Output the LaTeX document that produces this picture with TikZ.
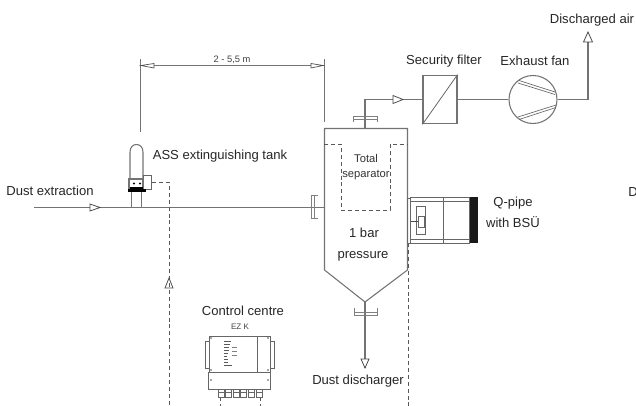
\documentclass[tikz,border=0pt]{standalone}
\usepackage{fontspec}
\setmainfont{Liberation Sans}
\begin{document}
\begin{tikzpicture}[x=0.75pt,y=-0.75pt,
  pipe/.style={draw=black!55,line width=0.8pt},
  thin part/.style={draw=black!60,line width=0.5pt},
  dash line/.style={draw=black!65,line width=0.7pt,dash pattern=on 3pt off 2.2pt},
  lbl/.style={inner sep=0pt,text=black!85,font=\fontsize{9.8}{11}\selectfont,align=center},
  sep lbl/.style={inner sep=0pt,text=black!80,font=\fontsize{8.4}{10}\selectfont},
  small lbl/.style={inner sep=0pt,text=black!75,font=\fontsize{6}{7}\selectfont},
  dim lbl/.style={inner sep=0pt,text=black!75,font=\fontsize{7}{8}\selectfont},
  flange/.style={draw=black!50,line width=0.7pt},
  tip/.style={draw=black!70,fill=white,line width=0.6pt}]
\useasboundingbox (0,0) rectangle (636,406);
% coordinates
\coordinate (inlet) at (34,207.5);
\coordinate (flangeL) at (313,207.5);
\coordinate (vesselL) at (324,207.5);
\coordinate (topOut) at (365,128);
\coordinate (elbow) at (365,99.5);
\coordinate (apex) at (365,302);
\coordinate (dischargeTip) at (365,368);
\coordinate (exhaustElbow) at (588,99.5);
\coordinate (exhaustTip) at (588,42);
\coordinate (dimL) at (140.5,65.5);
\coordinate (dimR) at (324.5,65.5);
% vessel
\draw[pipe] (324.5,128.5) -- (407.5,128.5) -- (407.5,270) -- (365,302) -- (324.5,270) -- cycle;
% nodes
\node[pipe,inner sep=0pt,minimum width=25.5pt,minimum height=36.5pt] (filter) at (440,99.5) {};
\draw[thin part,line width=0.6pt] (filter.south west) -- (filter.north east);
\node[pipe,circle,inner sep=0pt,minimum size=36pt] (fan) at (533,99.5) {};
\draw[thin part] (519,80.5) -- (555,92) (518,83) -- (555,94.5);
\draw[thin part] (518,117) -- (556,105) (519,119.5) -- (556,107.5);
% pipes
\draw[pipe] (inlet) -- (flangeL);
\draw[pipe] (flangeL) -- (vesselL);
\draw[pipe] (topOut) -- (elbow) -- (filter.west);
\draw[pipe] (filter.east) -- (fan.west);
\draw[pipe] (fan.east) -- (exhaustElbow) -- (exhaustTip);
\draw[pipe] (apex) -- (dischargeTip);
% open arrowheads
\draw[tip] (90,204) -- (100,207.5) -- (90,211) -- cycle;
\draw[tip] (393,95.5) -- (403,99.5) -- (393,103.5) -- cycle;
\draw[tip] (588,32) -- (592.5,42) -- (583.5,42) -- cycle;
\draw[tip] (365,368) -- (361,359) -- (369,359) -- cycle;
\draw[tip] (169,278) -- (165,288) -- (173,288) -- cycle;
% flanges
\draw[flange] (318,195) -- (311,195) -- (311,218) -- (318,218);
\draw[flange] (314,195) -- (314,218);
\draw[flange] (353.5,122) -- (353.5,116) -- (377,116) -- (377,122);
\draw[flange] (353.5,119) -- (377,119);
\draw[flange] (354,308) -- (354,315) -- (377,315) -- (377,308);
\draw[flange] (354,312) -- (377,312);
% separator
\draw[dash line] (324,144) -- (341,144) -- (341,210) -- (390,210) -- (390,144) -- (407,144);
% dimension
\draw[pipe] (dimL) ++(0,-6) -- (140.5,132);
\draw[pipe] (dimR) ++(0,-6) -- (324.5,122);
\draw[pipe] (dimL) -- (dimR);
\draw[tip,line width=0.5pt] (141,65.5) -- (154,63.5) -- (154,68) -- cycle;
\draw[tip,line width=0.5pt] (323,65.5) -- (311,63.5) -- (311,68) -- cycle;
% tank
\draw[pipe] (130,179) -- (130,152) .. controls (130,142) and (143,142) .. (143,152) -- (143,179);
\draw[thin part,fill=white] (143,175) rectangle (151,189);
\draw[pipe,fill=white] (129,179) rectangle (143,189);
\fill[black] (128,189) rectangle (146,192.5);
\fill[black] (130,187) rectangle (143,190);
\fill[black] (134,183.5) circle (1.2) (140,183.5) circle (1.2);
\draw[pipe] (131.5,192) -- (131.5,207) (141.5,192) -- (141.5,207);
% extinguisher signal
\coordinate (sigTop) at (169,182);
\coordinate (sigBottom) at (169,406);
\draw[dash line] (152,182) -- (sigTop) -- (sigBottom);
\draw[dash line] (408,243) -- (408,406);
% Q-pipe
\fill[black!90] (469,197) rectangle (478,243);
\draw[thin part] (407,198) rectangle (410.5,243);
\draw[thin part] (410.5,197) rectangle (469,243);
\draw[thin part] (410.5,201) -- (469,201) (410.5,239) -- (469,239);
\draw[thin part] (443,197) -- (443,243);
\draw[thin part] (416,206) rectangle (425,234);
\draw[thin part] (418,216) rectangle (424,227);
\draw[black!70,line width=0.7pt] (410.5,221) -- (418,221);
% control centre
\draw[thin part] (209,336) rectangle (270,372);
\draw[thin part] (208,372) rectangle (270,389);
\draw[thin part] (257,336) -- (257,372);
\draw[thin part] (209,341) -- (205,341) -- (205,368) -- (209,368);
\draw[thin part] (270,341) -- (274,341) -- (274,368) -- (270,368);
\foreach \p in {(211,338),(268,338),(211,370),(268,370),(211,380),(268,380)} \fill[black!70] \p circle (0.9);
\foreach \i in {0,1,2,3,4,5} {
  \draw[thin part] ({218+7.6*\i},389) rectangle ({224+7.6*\i},397);
  \draw[thin part] ({218+7.6*\i},392.5) -- ({224+7.6*\i},392.5);
}
\foreach \x/\yy/\l in {224/341/7,224/344/6,224/347/5,224/350/5,224/353/4,224/356/3,224/359/4,224/362/4,224/365/6}
  \draw[black!65,line width=0.6pt] (\x,\yy) -- ++(\l,0);
\foreach \yy in {347,351,355} \draw[black!50,line width=0.5pt] (232,\yy) -- ++(5,0);
\draw[black!65,line width=0.5pt] (226,365) -- (232,365);
\draw[black!65,line width=0.5pt,dash pattern=on 2.5pt off 2pt] (220,398) -- (220,406) (260.5,398) -- (260.5,406);
% labels
\node[lbl] (tDust) at (50,191) {Dust extraction};
\node[lbl] (tAss) at (220,156.5) {ASS extinguishing tank};
\node[lbl] (tSec) at (444,61) {Security filter};
\node[lbl] (tFan) at (535,61) {Exhaust fan};
\node[lbl] (tAir) at (592,20) {Discharged air};
\node[sep lbl] (tSep) at (366,158) {Total};
\node[sep lbl] (tSep2) at (366,175) {separator};
\node[lbl] (t1bar) at (364,233) {1 bar};
\node[lbl] (tPres) at (363,256) {pressure};
\node[lbl] (tQ) at (513,203) {Q-pipe};
\node[lbl] (tBsu) at (513,222) {with BSÜ};
\node[lbl] (tCtl) at (243,311) {Control centre};
\node[small lbl] (tEz) at (240,327) {EZ K};
\node[lbl] (tDis) at (358,381) {Dust discharger};
\node[dim lbl] (tDim) at (232,60) {2 - 5,5 m};
\node[lbl,anchor=west] (tD) at (628,192) {D};
\end{tikzpicture}
\end{document}
